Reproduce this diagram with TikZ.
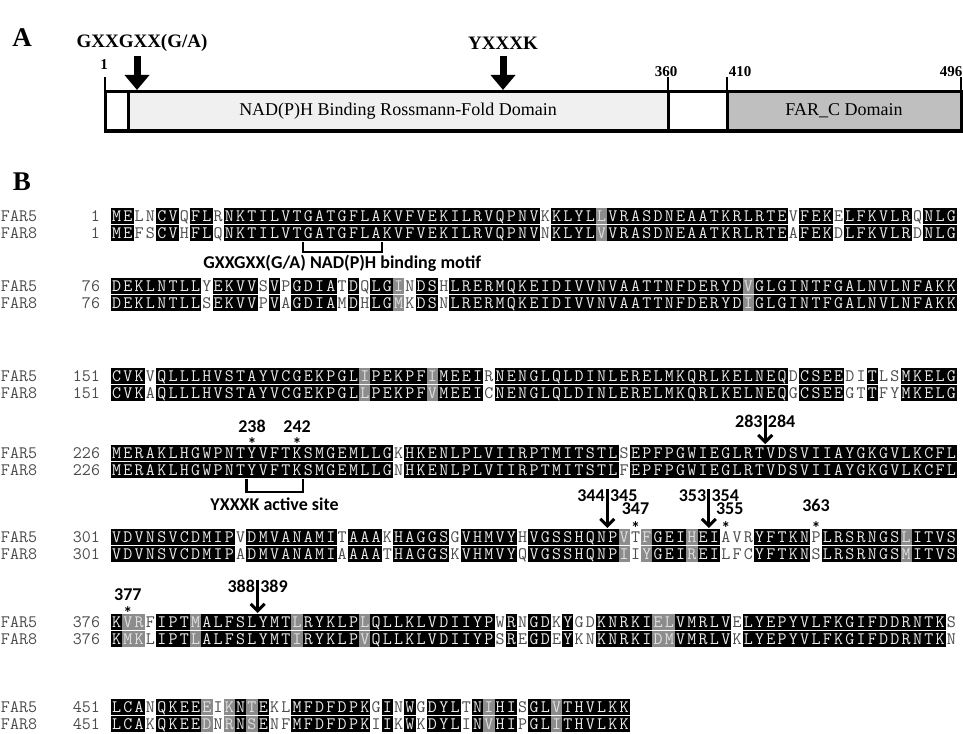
\documentclass[tikz,border=0pt]{standalone}
\usepackage{fontspec}
\usepackage{xstring}
\usetikzlibrary{arrows.meta,positioning}
\newfontfamily\timesfont{Liberation Serif}
\newfontfamily\califont{Carlito}
\newcommand\seqfont{\ttfamily\fontsize{17.5}{17.5}\selectfont}
\colorlet{fillb}{black}
\colorlet{fillg}{black!45}
\colorlet{fillw}{white}
\colorlet{inkb}{black!8}
\colorlet{inkg}{black!12}
\colorlet{inkw}{black!70}

\newcommand\alnblock[6]{%
  \node[cell, anchor=west, text=inkw] (#1nA) at (1,#2) {FAR5};
  \node[cell, text=inkw, below=1pt of #1nA] (#1nB) {FAR8};
  \node[cell, anchor=east, text=inkw] (#1pA) at (100,#2) {#3};
  \node[cell, text=inkw, below=1pt of #1pA] (#1pB) {#3};
  \StrLen{#4}[\blen]%
  \foreach \k in {1,...,\blen}{%
    \StrChar{#4}{\k}[\sh]%
    \StrChar{#5}{\k}[\ra]%
    \StrChar{#6}{\k}[\rb]%
    \node[res, fill=fill\sh, text=ink\sh] (#1a\k) at ({111+(\k-0.5)*11.28},#2) {\ra};
    \node[res, fill=fill\sh, text=ink\sh, below=1pt of #1a\k] (#1b\k) {\rb};
  }%
}

\begin{document}
\begin{tikzpicture}[
    x=1pt, y=-1pt,
    cell/.style={inner sep=0pt, outer sep=0pt, minimum height=16pt, text height=10.7pt, text depth=0pt, font=\seqfont},
    res/.style={cell, minimum width=11.28pt},
    titlelbl/.style={font=\timesfont\bfseries\fontsize{27}{27}\selectfont, inner sep=0pt},
    motif/.style={font=\timesfont\bfseries\fontsize{19}{19}\selectfont, inner sep=0pt},
    aanum/.style={font=\timesfont\bfseries\fontsize{15}{15}\selectfont, inner sep=0pt},
    domtxt/.style={font=\timesfont\fontsize{18}{18}\selectfont, inner sep=0pt},
    poslbl/.style={font=\califont\bfseries\fontsize{18}{18}\selectfont, inner sep=0pt, anchor=base},
    astk/.style={poslbl},
    bigarrow/.style={line width=7pt, -{Triangle[width=24pt,length=15pt]}},
    sitearrow/.style={line width=3pt, -{Straight Barb[length=7pt,width=14pt]}},
    brkt/.style={line width=2.4pt}
  ]
\useasboundingbox (0,0) rectangle (963,733);

\node[titlelbl] (lblA) at (22,38) {A};
\node[motif] (gxx) at (142,43) {GXXGXX(G/A)};
\node[motif] (yxk) at (503,43) {YXXXK};
\fill[black!6] (128,92) rectangle (668,131);
\fill[black!25] (727,92) rectangle (961,131);
\draw[line width=3pt] (105,92) rectangle (961,131);
\foreach \x in {128,668,727}
  \draw[line width=3pt] (\x,92) -- (\x,131);
\foreach \x in {105,668,727,961}
  \draw[line width=1.5pt] (\x,92) -- (\x,77);
\node[domtxt] (nadtxt) at (398,111) {NAD(P)H Binding Rossmann-Fold Domain};
\node[domtxt] (fartxt) at (844,111) {FAR\_C Domain};
\node[aanum] (n1) at (104,65) {1};
\node[aanum] (n360) at (666,72) {360};
\node[aanum] (n410) at (740,72) {410};
\node[aanum] (n496) at (951,72) {496};
\coordinate (gxxtop) at (137,56);
\coordinate (gxxtip) at (137,90);
\coordinate (yxktop) at (503,56);
\coordinate (yxktip) at (503,90);
\draw[bigarrow] (gxxtop) -- (gxxtip);
\draw[bigarrow] (yxktop) -- (yxktip);

\node[titlelbl] (lblB) at (22,182) {B};

\alnblock{r1}{216}{1}
  {bbwwbbwbbwbbbbbbbbbbbbbbbbbbbbbbbbbbbbwbbbbgbbbbbbbbbbbbbbbbwbbbwbbbbbbwbbb}
  {MELNCVQFLRNKTILVTGATGFLAKVFVEKILRVQPNVKKLYLLVRASDNEAATKRLRTEVFEKELFKVLRQNLG}
  {MEFSCVHFLQNKTILVTGATGFLAKVFVEKILRVQPNVNKLYLVVRASDNEAATKRLRTEAFEKDLFKVLRDNLG}
\alnblock{r2}{286}{76}
  {bbbbbbbbwbbbbwbwbbbbwbwbbgwbbwbbbbbbbbbbbbbbbbbbbbbbbbbbgbbbbbbbbbbbbbbbbbb}
  {DEKLNTLLYEKVVSVPGDIATDQLGINDSHLRERMQKEIDIVVNVAATTNFDERYDVGLGINTFGALNVLNFAKK}
  {DEKLNTLLSEKVVPVAGDIAMDHLGMKDSNLRERMQKEIDIVVNVAATTNFDERYDIGLGINTFGALNVLNFAKK}
\alnblock{r3}{376}{151}
  {bbbwbbbbbbbbbbbbbbbbbbgbbbbbgbbbbwbbbbbbbbbbbbbbbbbbbbbbbbbbwbbbbwwbwwbbbbb}
  {CVKVQLLLHVSTAYVCGEKPGLIPEKPFIMEEIRNENGLQLDINLERELMKQRLKELNEQDCSEEDITLSMKELG}
  {CVKAQLLLHVSTAYVCGEKPGLLPEKPFVMEEICNENGLQLDINLERELMKQRLKELNEQGCSEEGTTFYMKELG}
\alnblock{r4}{453}{226}
  {bbbbbbbbbbbbbbbbbbbbbbbbbwbbbbbbbbbbbbbbbbbbbwbbbbbbbbbbbbbbbbbbbbbbbbbbbbb}
  {MERAKLHGWPNTYVFTKSMGEMLLGKHKENLPLVIIRPTMITSTLSEPFPGWIEGLRTVDSVIIAYGKGVLKCFL}
  {MERAKLHGWPNTYVFTKSMGEMLLGNHKENLPLVIIRPTMITSTLFEPFPGWIEGLRTVDSVIIAYGKGVLKCFL}
\alnblock{r5}{537}{301}
  {bbbbbbbbbbbwbbbbbbbbwbbbwbbbbbwbbbbbwbbbbbbbbgwgbbbgbbwwwbbbbbwbbbbbbbgbbbb}
  {VDVNSVCDMIPVDMVANAMITAAAKHAGGSGVHMVYHVGSSHQNPVTFGEIHEIAVRYFTKNPLRSRNGSLITVS}
  {VDVNSVCDMIPADMVANAMIAAAATHAGGSKVHMVYQVGSSHQNPIIYGEIREILFCYFTKNSLRSRNGSMITVS}
\alnblock{r6}{622}{376}
  {bggwbbbgbbbbbbbbgbbbbbgbbbbbbbbbbbwbwbbwbwwbbbbbggbbbbbwbbbbbbbbbbbbbbbbbbw}
  {KVRFIPTMALFSLYMTLRYKLPLQLLKLVDIIYPWRNGDKYGDKNRKIELVMRLVELYEPYVLFKGIFDDRNTKS}
  {KMKLIPTLALFSLYMTIRYKLPVQLLKLVDIIYPSREGDEYKNKNRKIDMVMRLVKLYEPYVLFKGIFDDRNTKN}
\alnblock{r7}{707}{451}
  {bbbwbbbbgwgbgbwwbbbbbbbwbwbwbbbwbgbbwbbgbbbbbb}
  {LCANQKEEEIKNTEKLMFDFDPKGINWGDYLTNIHISGLVTHVLKK}
  {LCAKQKEEDNRNSENFMFDFDPKIIKWKDYLINVHIPGLITHVLKK}

\draw[brkt] ([yshift=-1pt]r1b18.south west) |- ([yshift=-11pt]r1b24.south east) -- ([yshift=-1pt]r1b24.south east);
\node[poslbl, anchor=center] (motifA) at ([yshift=-22pt]r1b21.south) {GXXGXX(G/A) NAD(P)H binding motif};
\draw[brkt] ([yshift=-1pt]r4b13.south west) |- ([yshift=-14pt]r4b17.south east) -- ([yshift=-1pt]r4b17.south east);
\node[poslbl, anchor=center] (motifB) at ([yshift=-26pt]r4b15.south) {YXXXK active site};

\node[astk] (s238) at ([yshift=-5pt]r4a13.north) {*};
\node[poslbl] (p238) at ([yshift=13pt]r4a13.north) {238};
\node[astk] (s242) at ([yshift=-5pt]r4a17.north) {*};
\node[poslbl] (p242) at ([yshift=13pt]r4a17.north) {242};
\coordinate (a283) at ([yshift=30pt]r4a58.north east);
\coordinate (h283) at ([yshift=1pt]r4a58.north east);
\draw[sitearrow] (a283) -- (h283);
\node[poslbl, anchor=base east] (p283) at ([xshift=-2.5pt,yshift=-12pt]a283) {283};
\node[poslbl, anchor=base west] (p284) at ([xshift=2.5pt,yshift=-12pt]a283) {284};

\coordinate (a344) at ([yshift=40pt]r5a44.north east);
\coordinate (h344) at ([yshift=1pt]r5a44.north east);
\draw[sitearrow] (a344) -- (h344);
\node[poslbl, anchor=base east] (p344) at ([xshift=-2.5pt,yshift=-12pt]a344) {344};
\node[poslbl, anchor=base west] (p345) at ([xshift=2.5pt,yshift=-12pt]a344) {345};
\node[astk] (s347) at ([yshift=-5pt]r5a47.north) {*};
\node[poslbl] (p347) at ([yshift=15pt]r5a47.north) {347};
\coordinate (a353) at ([yshift=40pt]r5a53.north east);
\coordinate (h353) at ([yshift=1pt]r5a53.north east);
\draw[sitearrow] (a353) -- (h353);
\node[poslbl, anchor=base east] (p353) at ([xshift=-2.5pt,yshift=-12pt]a353) {353};
\node[poslbl, anchor=base west] (p354) at ([xshift=2.5pt,yshift=-12pt]a353) {354};
\node[astk] (s355) at ([yshift=-5pt]r5a55.north) {*};
\node[poslbl] (p355) at ([xshift=4pt,yshift=15pt]r5a55.north) {355};
\node[astk] (s363) at ([yshift=-5pt]r5a63.north) {*};
\node[poslbl] (p363) at ([yshift=18pt]r5a63.north) {363};

\node[astk] (s377) at ([yshift=-5pt]r6a2.north) {*};
\node[poslbl] (p377) at ([yshift=14pt]r6a2.north) {377};
\coordinate (a388) at ([yshift=34pt]r6a13.north east);
\coordinate (h388) at ([yshift=1pt]r6a13.north east);
\draw[sitearrow] (a388) -- (h388);
\node[poslbl, anchor=base east] (p388) at ([xshift=-2.5pt,yshift=-12pt]a388) {388};
\node[poslbl, anchor=base west] (p389) at ([xshift=2.5pt,yshift=-12pt]a388) {389};
\end{tikzpicture}
\end{document}
